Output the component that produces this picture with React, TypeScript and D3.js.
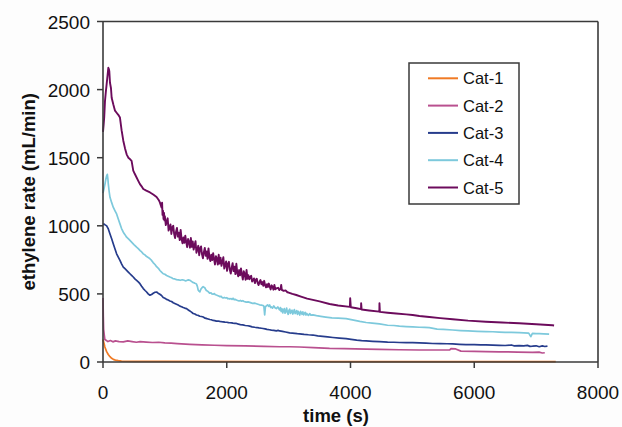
import React from "react";
import * as d3 from "d3";

const seriesNames = ["Cat-1", "Cat-2", "Cat-3", "Cat-4", "Cat-5"];
const seriesColors = ["#f07a24", "#b9508f", "#263c8c", "#7dc9dc", "#6c0b5c"];
const xTicks = [0, 2000, 4000, 6000, 8000];
const yTicks = [0, 500, 1000, 1500, 2000, 2500];

const cat1: [number, number][] = [
  [0, 165], [15, 140], [30, 110], [59, 76], [85, 55], [113, 39], [140, 27], [167, 19],
  [200, 14], [247, 10], [300, 7], [500, 5], [1000, 4], [3000, 3], [5000, 3], [7317, 3],
];

const cat2: [number, number][] = [
  [0, 470], [5, 330], [10, 240], [20, 200], [30, 165], [50, 160], [80, 150], [120, 158],
  [160, 148], [200, 155], [260, 150], [328, 148], [400, 155], [470, 150], [540, 145],
  [600, 150], [700, 146], [800, 143], [900, 145], [1000, 140], [1100, 138], [1200, 135],
  [1403, 130], [1600, 126], [1800, 123], [2000, 120], [2300, 118], [2600, 115], [2855, 112],
  [3016, 112], [3177, 110], [3400, 106], [3661, 100], [3900, 98], [4253, 95], [4468, 93],
  [4790, 90], [5113, 88], [5300, 88], [5600, 88], [5624, 98], [5700, 96], [5785, 80],
  [6000, 78], [6188, 76], [6403, 75], [6700, 73], [6941, 71], [7048, 72], [7100, 66], [7140, 68],
];

const cat3: [number, number][] = [
  [0, 1010], [20, 1012], [40, 1005], [59, 1000], [86, 977], [113, 940], [140, 905], [167, 867],
  [194, 830], [220, 794], [247, 770], [274, 746], [300, 720], [328, 697], [355, 685], [382, 673],
  [409, 660], [435, 648], [462, 636], [489, 624], [515, 610], [543, 599], [570, 588], [597, 575],
  [624, 556], [651, 539], [680, 525], [705, 514], [730, 500], [758, 490], [785, 496], [812, 505],
  [840, 512], [866, 514], [890, 505], [919, 497], [946, 488], [973, 473], [1000, 468], [1027, 460],
  [1054, 455], [1081, 448], [1108, 444], [1135, 435], [1160, 430], [1188, 424], [1215, 418],
  [1242, 410], [1270, 406], [1296, 400], [1320, 396], [1350, 392], [1380, 382], [1403, 375],
  [1430, 366], [1457, 356], [1485, 352], [1511, 345], [1540, 342], [1565, 336], [1590, 334],
  [1620, 330], [1650, 322], [1680, 318], [1700, 316], [1726, 312], [1750, 310], [1780, 305],
  [1805, 304], [1833, 300], [1860, 301], [1887, 298], [1915, 296], [1941, 295], [1970, 293],
  [2000, 292], [2030, 289], [2050, 288], [2080, 287], [2100, 285], [2130, 284], [2156, 283],
  [2190, 278], [2220, 275], [2260, 272], [2300, 268], [2340, 266], [2371, 263], [2410, 258],
  [2450, 255], [2490, 253], [2520, 250], [2560, 248], [2586, 246], [2620, 243], [2650, 240],
  [2690, 237], [2720, 234], [2760, 232], [2801, 229], [2830, 232], [2855, 228], [2900, 225],
  [2950, 220], [3016, 214], [3060, 212], [3100, 210], [3140, 208], [3177, 207], [3250, 203],
  [3320, 200], [3392, 198], [3470, 192], [3550, 188], [3630, 184], [3715, 180], [3820, 176],
  [3929, 172], [4010, 166], [4100, 160], [4180, 157], [4253, 155], [4360, 152], [4468, 150],
  [4600, 146], [4700, 145], [4790, 143], [4900, 142], [5005, 142], [5113, 140], [5220, 138],
  [5328, 136], [5450, 135], [5560, 134], [5651, 133], [5760, 130], [5866, 128], [6000, 127],
  [6100, 126], [6188, 126], [6300, 124], [6403, 122], [6500, 121], [6600, 125], [6640, 119],
  [6726, 120], [6800, 118], [6860, 122], [6900, 115], [6941, 116], [7000, 119], [7050, 112],
  [7100, 118], [7140, 114], [7183, 117],
];

const cat4: [number, number][] = [
  [0, 1240], [15, 1270], [32, 1306], [45, 1340], [59, 1367], [70, 1378], [80, 1340], [86, 1306],
  [100, 1250], [113, 1209], [140, 1170], [167, 1135], [194, 1110], [220, 1087], [247, 1050],
  [274, 1014], [300, 980], [328, 953], [355, 935], [382, 916], [420, 900], [462, 880], [500, 862],
  [543, 843], [570, 832], [600, 818], [625, 808], [651, 794], [680, 786], [700, 776], [730, 768],
  [758, 758], [785, 746], [810, 730], [840, 716], [866, 700], [895, 688], [920, 672], [946, 660],
  [973, 648], [1000, 644], [1027, 635], [1054, 630], [1081, 624], [1110, 618], [1130, 612],
  [1160, 610], [1188, 605], [1220, 603], [1250, 600], [1280, 604], [1300, 602], [1330, 596],
  [1350, 598], [1380, 603], [1403, 600], [1430, 592], [1450, 585], [1470, 582], [1484, 578],
  [1500, 576], [1511, 572], [1525, 555], [1538, 529], [1552, 520], [1565, 515], [1580, 532],
  [1590, 540], [1605, 548], [1618, 553], [1632, 548], [1645, 545], [1658, 534], [1670, 525],
  [1685, 522], [1699, 517], [1712, 510], [1726, 505], [1745, 508], [1760, 500], [1780, 498],
  [1800, 502], [1815, 494], [1833, 492], [1850, 488], [1870, 484], [1890, 480], [1910, 482],
  [1925, 474], [1941, 470], [1960, 474], [1980, 470], [2000, 472], [2020, 464], [2035, 466],
  [2050, 462], [2070, 466], [2085, 460], [2102, 468], [2120, 458], [2140, 460], [2156, 455],
  [2175, 452], [2200, 448], [2220, 452], [2240, 446], [2260, 450], [2280, 444], [2300, 442],
  [2320, 440], [2345, 441], [2371, 438], [2395, 434], [2420, 430], [2450, 432], [2480, 428],
  [2505, 424], [2530, 420], [2560, 418], [2586, 415], [2600, 410], [2613, 345], [2625, 405],
  [2640, 412], [2660, 420], [2680, 408], [2694, 419], [2710, 400], [2720, 405], [2740, 396],
  [2760, 412], [2780, 398], [2801, 392], [2825, 404], [2855, 382], [2868, 400], [2880, 371],
  [2893, 390], [2905, 360], [2918, 380], [2930, 392], [2943, 358], [2955, 372], [2968, 396],
  [2980, 365], [2993, 350], [3005, 378], [3018, 388], [3030, 356], [3043, 372], [3055, 380],
  [3068, 352], [3080, 368], [3093, 385], [3105, 355], [3118, 364], [3130, 378], [3143, 350],
  [3155, 372], [3168, 360], [3180, 345], [3193, 372], [3205, 362], [3218, 350], [3230, 368],
  [3243, 346], [3255, 358], [3268, 364], [3280, 345], [3293, 356], [3305, 350], [3320, 342],
  [3340, 355], [3360, 344], [3392, 346], [3450, 340], [3520, 335], [3600, 330], [3700, 324],
  [3800, 322], [3929, 318], [4050, 308], [4150, 298], [4253, 290], [4350, 286], [4468, 280],
  [4600, 270], [4700, 268], [4790, 263], [4900, 260], [5005, 258], [5113, 255], [5200, 254],
  [5274, 252], [5400, 242], [5500, 240], [5651, 235], [5780, 231], [5900, 228], [6050, 225],
  [6188, 223], [6300, 222], [6403, 220], [6500, 218], [6600, 217], [6726, 215], [6800, 214],
  [6880, 212], [6914, 186], [6940, 210], [7000, 209], [7050, 208], [7120, 206], [7210, 204],
];

const cat5: [number, number][] = [
  [0, 1690], [10, 1740], [20, 1800], [32, 1915], [45, 1980], [59, 2040], [75, 2110], [86, 2160],
  [95, 2150], [102, 2135], [113, 2050], [129, 2010], [140, 1940], [167, 1890], [194, 1845],
  [220, 1830], [247, 1815], [274, 1795], [301, 1700], [328, 1625], [355, 1570], [382, 1525],
  [409, 1500], [435, 1490], [462, 1477], [489, 1405], [515, 1380], [543, 1355], [570, 1330],
  [597, 1306], [624, 1290], [651, 1270], [700, 1258], [760, 1245], [812, 1230], [866, 1212],
  [900, 1190], [919, 1172], [935, 1150], [946, 1135], [955, 1170], [962, 1080], [970, 1110],
  [978, 1050], [986, 1095], [993, 1040],
  [1000, 1070], [1015, 1005], [1030, 1030], [1045, 1055], [1060, 965], [1075, 985], [1090, 1010],
  [1105, 940], [1120, 990], [1135, 1000], [1150, 940], [1165, 910], [1180, 955], [1195, 985],
  [1210, 921], [1225, 950], [1240, 895], [1255, 970], [1270, 903], [1285, 872], [1300, 915],
  [1315, 875], [1330, 927], [1345, 882], [1360, 843], [1375, 903], [1390, 883], [1405, 839],
  [1420, 910], [1435, 845], [1450, 885], [1465, 825], [1480, 856], [1495, 887], [1510, 802],
  [1525, 828], [1540, 853], [1555, 784], [1570, 834], [1585, 849], [1600, 790], [1615, 761],
  [1630, 807], [1645, 838], [1660, 780], [1675, 811], [1690, 757], [1705, 834], [1720, 770],
  [1735, 741], [1750, 787], [1765, 748], [1780, 799], [1795, 755], [1810, 716], [1825, 777],
  [1840, 759], [1855, 715], [1870, 787], [1885, 723], [1900, 765], [1915, 706], [1930, 738],
  [1945, 769], [1960, 686], [1975, 712], [1990, 738], [2005, 669], [2020, 720], [2035, 736],
  [2050, 677], [2065, 649], [2080, 695], [2095, 726], [2110, 667], [2125, 699], [2140, 645],
  [2155, 721], [2170, 657], [2185, 629], [2200, 675], [2215, 636], [2230, 687], [2245, 644],
  [2260, 605], [2275, 666], [2290, 647], [2305, 604], [2320, 675], [2335, 611], [2350, 637],
  [2365, 607], [2380, 620], [2395, 633], [2410, 590], [2425, 602], [2440, 614], [2455, 579],
  [2470, 604], [2485, 611], [2500, 580], [2515, 565], [2530, 588], [2545, 602], [2560, 571],
  [2575, 587], [2590, 559], [2605, 596], [2620, 564], [2635, 548], [2650, 571], [2665, 551],
  [2680, 576], [2695, 553], [2710, 533], [2725, 563], [2740, 553], [2755, 531], [2770, 566],
  [2785, 534], [2800, 540], [2830, 545], [2850, 528], [2870, 538], [2880, 566], [2890, 530],
  [2920, 522], [2950, 526], [2980, 512], [3000, 510], [3060, 500], [3124, 492], [3200, 480],
  [3300, 465], [3392, 456], [3500, 445], [3661, 426], [3800, 415], [3990, 405], [3995, 468],
  [4005, 402], [4100, 395], [4170, 388], [4172, 431], [4180, 385], [4300, 378], [4466, 370],
  [4468, 431], [4475, 368], [4600, 362], [4737, 356], [4900, 350], [5005, 345], [5113, 338],
  [5274, 330], [5450, 322], [5651, 314], [5900, 304], [6188, 296], [6450, 290], [6726, 284],
  [7000, 277], [7263, 270], [7290, 268],
];

const seriesData = [cat1, cat2, cat3, cat4, cat5];

export default function App() {
  const width = 622;
  const height = 427;
  const left = 103;
  const right = 598;
  const top = 21.5;
  const bottom = 362;

  const x = d3.scaleLinear().domain([0, 8000]).range([left, right]);
  const y = d3.scaleLinear().domain([0, 2500]).range([bottom, top]);
  const line = d3
    .line<[number, number]>()
    .x((d) => x(d[0]))
    .y((d) => y(d[1]));

  const font = "'Liberation Sans', Arial, sans-serif";
  const axisColor = "#3a3a3a";

  const legendX = 409;
  const legendY = 63;
  const legendW = 110;
  const legendH = 141;

  return (
    <svg
      width={width}
      height={height}
      style={{ position: "absolute", left: 0, top: 0, background: "#fdfdfd" }}
    >
      <defs>
        <clipPath id="plotclip">
          <rect x={left - 2} y={top} width={right - left + 2} height={bottom - top + 1} />
        </clipPath>
      </defs>
      <rect x={0} y={0} width={width} height={height} fill="#fdfdfd" />
      <rect x={left} y={top} width={right - left} height={bottom - top} fill="#ffffff" />

      <g clipPath="url(#plotclip)">
        {seriesData.map((s, i) => (
          <path
            key={seriesNames[i]}
            d={line(s) || ""}
            fill="none"
            stroke={seriesColors[i]}
            strokeWidth={i === 4 ? 1.9 : 1.7}
            strokeLinejoin="round"
          />
        ))}
      </g>

      <line x1={left} y1={top} x2={right} y2={top} stroke={axisColor} strokeWidth={1.6} />
      <line x1={right} y1={top} x2={right} y2={bottom} stroke={axisColor} strokeWidth={1.6} />
      <line x1={left} y1={top} x2={left} y2={bottom} stroke={axisColor} strokeWidth={1.6} />
      <line x1={left} y1={bottom} x2={right} y2={bottom} stroke={axisColor} strokeWidth={1.6} />

      {yTicks.map((t) => (
        <g key={"y" + t}>
          <line x1={left - 6} x2={left} y1={y(t)} y2={y(t)} stroke={axisColor} strokeWidth={1.5} />
          <text
            x={left - 13}
            y={y(t) + 7}
            textAnchor="end"
            fontFamily={font}
            fontSize={19}
            fill="#111"
          >
            {t}
          </text>
        </g>
      ))}

      {xTicks.map((t) => (
        <g key={"x" + t}>
          <line x1={x(t)} x2={x(t)} y1={bottom} y2={bottom + 6} stroke={axisColor} strokeWidth={1.5} />
          <text
            x={x(t)}
            y={bottom + 37}
            textAnchor="middle"
            fontFamily={font}
            fontSize={19}
            fill="#111"
          >
            {t}
          </text>
        </g>
      ))}

      <text
        x={336}
        y={422}
        textAnchor="middle"
        fontFamily={font}
        fontSize={18.5}
        fontWeight="bold"
        fill="#111"
      >
        time (s)
      </text>
      <text
        transform={`translate(35, ${(top + bottom) / 2}) rotate(-90)`}
        textAnchor="middle"
        fontFamily={font}
        fontSize={18.5}
        fontWeight="bold"
        fill="#111"
      >
        ethylene rate (mL/min)
      </text>

      <rect
        x={legendX}
        y={legendY}
        width={legendW}
        height={legendH}
        fill="#ffffff"
        stroke={axisColor}
        strokeWidth={1.5}
      />
      {seriesNames.map((n, i) => {
        const ly = 78.3 + i * 27.3;
        return (
          <g key={"l" + n}>
            <line x1={428} x2={458} y1={ly} y2={ly} stroke={seriesColors[i]} strokeWidth={2} />
            <text x={463} y={ly + 6} fontFamily={font} fontSize={16.5} fill="#111">
              {n}
            </text>
          </g>
        );
      })}
    </svg>
  );
}
